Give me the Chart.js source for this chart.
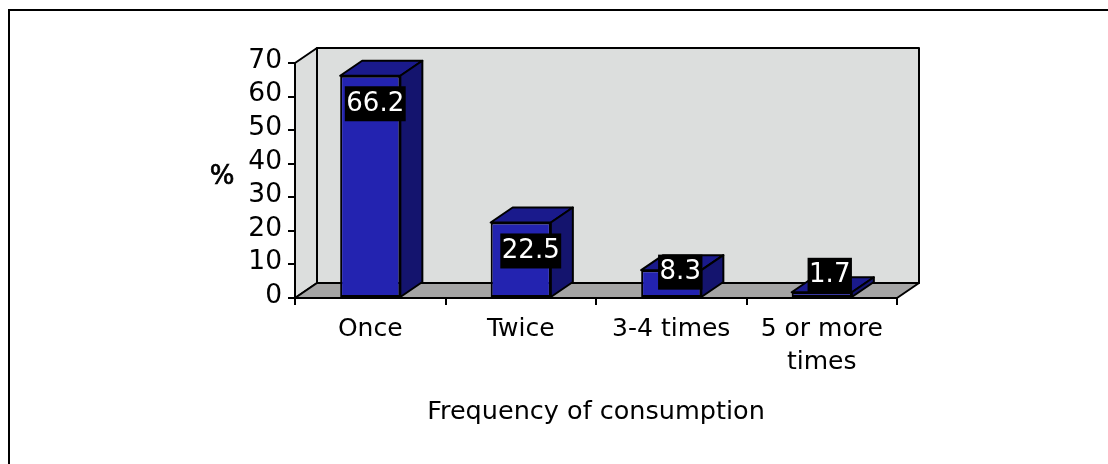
<!DOCTYPE html>
<html><head><meta charset="utf-8">
<style>html,body{margin:0;padding:0;background:#fff;overflow:hidden}
#w{position:absolute;left:0;top:0;width:1108px;height:464px}
#f{position:absolute;left:8px;top:9px;width:1100px;height:455px;border-left:2px solid #000;border-top:2px solid #000;box-sizing:border-box;pointer-events:none}
</style>
<script src="https://cdn.jsdelivr.net/npm/chart.js@4/dist/chart.umd.min.js"></script>
</head><body><div id="w"><canvas id="c" width="1108" height="464"></canvas></div><div id="f"></div>
<script>
const categories=["Once","Twice","3-4 times",["5 or more","times"]];
const values=[66.2,22.5,8.3,1.7];
const yTicks=[0,10,20,30,40,50,60,70];
const yTitle="%";
const xTitle="Frequency of consumption";
const DX=22,DY=-15;
const FONT="'DejaVu Sans'";
const threeD={id:'threeD',
 beforeDatasetsDraw(ch){const a=ch.chartArea,c=ch.ctx;c.save();c.lineWidth=2;c.strokeStyle='#000';c.lineJoin='round';
  c.fillStyle='#dcdedd';c.beginPath();c.moveTo(a.left,a.top);c.lineTo(a.left+DX,a.top+DY);c.lineTo(a.left+DX,a.bottom+DY);c.lineTo(a.left,a.bottom);c.closePath();c.fill();c.stroke();
  c.beginPath();c.rect(a.left+DX,a.top+DY,a.width,a.height);c.fill();c.stroke();
  c.fillStyle='#a5a5a5';c.beginPath();c.moveTo(a.left,a.bottom);c.lineTo(a.left+DX,a.bottom+DY);c.lineTo(a.right+DX,a.bottom+DY);c.lineTo(a.right,a.bottom);c.closePath();c.fill();c.stroke();
  c.restore();},
 afterDatasetsDraw(ch){const c=ch.ctx,m=ch.getDatasetMeta(0);c.save();c.lineWidth=2;c.strokeStyle='#000';c.lineJoin='round';
  m.data.forEach(b=>{const l=b.x-b.width/2,r=b.x+b.width/2,t=b.y,bo=b.base;
   c.fillStyle='#1a1a8c';c.beginPath();c.moveTo(l,t);c.lineTo(l+DX,t+DY);c.lineTo(r+DX,t+DY);c.lineTo(r,t);c.closePath();c.fill();c.stroke();
   c.fillStyle='#14146e';c.beginPath();c.moveTo(r,t);c.lineTo(r+DX,t+DY);c.lineTo(r+DX,bo+DY);c.lineTo(r,bo);c.closePath();c.fill();c.stroke();
  });
  c.font='26px '+FONT;c.textAlign='center';c.textBaseline='middle';
  const ox=[5,10,9,8],oy=[28,28.5,2,-17];
  m.data.forEach((b,i)=>{const s=String(values[i]);const w=c.measureText(s).width+3;const cx=b.x+ox[i],cy=b.y+oy[i];
   c.fillStyle='#000';c.fillRect(cx-w/2,cy-17.5,w,35);c.fillStyle='#fff';c.fillText(s,cx,cy);});
  c.restore();},
 afterDraw(ch){const c=ch.ctx;c.save();c.font='26px '+FONT;c.fillStyle='#000';c.strokeStyle='#000';c.lineWidth=0.7;c.textAlign='center';c.textBaseline='middle';c.fillText(yTitle,222,177);c.strokeText(yTitle,222,177);c.restore();}
};
new Chart(document.getElementById('c'),{type:'bar',
 data:{labels:categories,datasets:[{data:values,backgroundColor:'#2323b0',borderColor:'#000',borderWidth:2,borderSkipped:false,categoryPercentage:1,barPercentage:0.4}]},
 plugins:[threeD],
 options:{responsive:false,animation:false,
  layout:{padding:{left:195,right:211,top:63,bottom:36}},
  plugins:{legend:{display:false},tooltip:{enabled:false}},
  scales:{
   x:{afterFit(s){s.height=130;},
      grid:{display:true,drawOnChartArea:false,drawTicks:true,tickLength:7,color:'#000',lineWidth:2,offset:true},border:{color:'#000',width:2},
      ticks:{color:'#000',font:{family:FONT,size:25,lineHeight:1.32},padding:8,maxRotation:0,autoSkip:false},
      title:{display:true,text:xTitle,color:'#000',font:{family:FONT,size:25.5},padding:{top:0,bottom:0}}},
   y:{min:0,max:70,afterBuildTicks(s){s.ticks=yTicks.map(v=>({value:v}));},afterFit(s){s.width=100;},
      grid:{display:true,drawOnChartArea:false,tickLength:7,color:'#000',lineWidth:2},border:{color:'#000',width:2},
      ticks:{color:'#000',font:{family:FONT,size:26.5},padding:6,labelOffset:-2,autoSkip:false}}
  }}});
</script></body></html>
